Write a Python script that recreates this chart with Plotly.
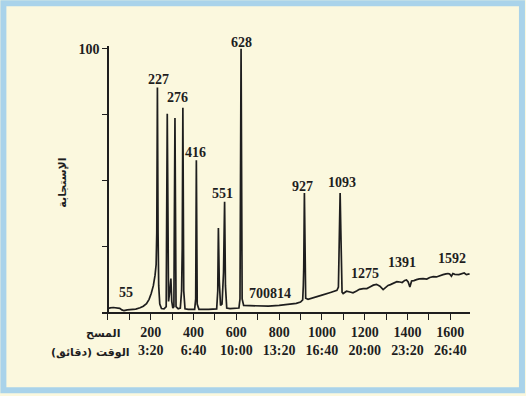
import plotly.graph_objects as go

# ---- data ----
scan = [0, 10, 25, 40, 55, 65, 75, 90, 110, 130, 150, 165, 180, 192, 202, 212, 220, 225, 228, 231, 234, 237, 242, 250,
        262, 272, 277, 283, 289, 294, 298, 303,
        308, 313, 318, 328,
        338, 344, 347, 350, 354, 360,
        375, 405, 410, 413, 417, 425,
        470, 508, 513, 516, 520, 526, 533, 540, 545, 549, 555,
        570, 612, 617, 622, 627, 634,
        660, 700, 750, 800, 850, 880, 900, 910, 913, 915, 918, 921, 924, 935, 960, 1000, 1040, 1070,
        1077, 1080, 1082, 1085, 1088, 1090, 1094, 1099,
        1115, 1131, 1145, 1162, 1175, 1193, 1210, 1224, 1240, 1255, 1271, 1286, 1309, 1320, 1330, 1341, 1350,
        1364, 1375, 1387, 1395, 1403, 1411, 1419, 1430, 1442, 1455, 1473, 1490, 1504, 1520, 1535, 1550, 1566,
        1580, 1589, 1597, 1605, 1612, 1621, 1640, 1652, 1665, 1675, 1690]
response = [1.2, 1.6, 1.7, 1.5, 1.4, 0.8, 0.5, 0.8, 0.9, 1.1, 1.6, 2.2, 3.2, 4.8, 7.0, 10.0, 14.0, 18.0, 30.0, 85.2, 30.0, 10.0, 3.0, 1.3,
            1.2, 2.0, 75.3, 4.0, 8.0, 12.7, 4.0, 1.5,
            2.0, 73.7, 2.0, 1.2,
            1.5, 8.0, 24.0, 77.6, 8.0, 1.2,
            1.0, 1.0, 5.0, 57.6, 3.0, 1.0,
            1.0, 1.2, 8.0, 31.9, 12.0, 2.5, 3.0, 15.0, 41.9, 10.0, 1.5,
            1.3, 1.5, 5.0, 100.0, 5.0, 2.5,
            2.4, 2.3, 2.2, 2.5, 2.9, 3.3, 3.8, 4.6, 10.0, 17.0, 45.2, 12.0, 5.2, 4.8, 5.5, 6.4, 7.4, 8.2,
            9.5, 20.0, 32.0, 45.2, 32.0, 15.0, 7.5, 7.0,
            7.9, 7.6, 7.3, 8.0, 8.6, 8.9, 8.9, 9.5, 10.2, 10.5, 9.8, 8.5, 10.1, 10.4, 10.8, 11.0, 11.5,
            11.4, 11.2, 12.0, 12.2, 11.4, 9.5, 11.8, 11.9, 12.3, 12.6, 12.7, 12.5, 13.1, 13.4, 13.3, 13.6, 14.2,
            14.5, 14.6, 14.4, 13.6, 14.6, 14.3, 14.2, 14.6, 14.8, 14.2, 14.5]

peak_labels = ["55", "227", "276", "416", "551", "628", "700814", "927", "1093", "1275", "1391", "1592"]
peak_label_scan = [85, 235, 323, 407, 533, 622, 758, 907, 1093, 1200, 1373, 1607]
peak_label_resp = [7.5, 88.3, 81.5, 60.6, 45.0, 102.4, 7.1, 47.7, 49.2, 14.7, 18.9, 20.4]

x_tick_vals = list(range(0, 1700, 100))
scan_labels = {200: "200", 400: "400", 600: "600", 800: "800", 1000: "1000", 1200: "1200", 1400: "1400", 1600: "1600"}
time_labels = {200: "3:20", 400: "6:40", 600: "10:00", 800: "13:20", 1000: "16:40", 1200: "20:00", 1400: "23:20", 1600: "26:40"}
y_tick_vals = [0, 25, 50, 75, 100]
y_tick_text = ["", "", "", "", "100"]

y_title = "الإستجابة"
scan_title = "المسح"
time_title = "الوقت (دقائق)"
RLM = "\u200f"

# ---- figure ----
W, H = 526, 396
ML, MR, MT, MB = 101.7, 56, 45.7, 84.3
XR = [-28, 1692]
YR = [0, 101]
pw, ph = W - ML - MR, H - MT - MB

def px2paper_x(px):
    return (px - ML) / pw

def py2paper_y(py):
    return (H - MB - py) / ph

def resp2paper(v):
    return (v - YR[0]) / (YR[1] - YR[0])

ink = "#1e1e1e"
serif = "Liberation Serif"
cream = "#fbf8de"

fig = go.Figure()
fig.add_trace(go.Scatter(x=scan, y=response, mode="lines",
                         line=dict(color=ink, width=1.7), hoverinfo="skip", showlegend=False))

tick_text = []
for v in x_tick_vals:
    if v in scan_labels:
        tick_text.append(scan_labels[v] + "<br>" + time_labels[v])
    else:
        tick_text.append("")

for t, xs, ys in zip(peak_labels, peak_label_scan, peak_label_resp):
    fig.add_annotation(x=xs, xref="x", y=resp2paper(ys), yref="paper", text=t, showarrow=False,
                       xanchor="center", yanchor="middle",
                       font=dict(family=serif, size=14, color=ink, weight="bold"))

arabic_font = dict(family="DejaVu Sans", size=11, color=ink, weight="bold")
fig.add_annotation(xref="paper", yref="paper", x=px2paper_x(122), y=py2paper_y(333),
                   text=RLM + scan_title + RLM, showarrow=False, xanchor="right", yanchor="middle",
                   font=arabic_font)
fig.add_annotation(xref="paper", yref="paper", x=px2paper_x(132), y=py2paper_y(352),
                   text=RLM + time_title + RLM, showarrow=False, xanchor="right", yanchor="middle",
                   font=arabic_font)
fig.add_annotation(xref="paper", yref="paper", x=px2paper_x(62), y=py2paper_y(182),
                   text=RLM + y_title + RLM, showarrow=False, textangle=-90, xanchor="center",
                   yanchor="middle", font=arabic_font)

# light blue frame around the page
fig.add_shape(type="rect", xref="paper", yref="paper",
              x0=px2paper_x(3), x1=px2paper_x(522), y0=py2paper_y(390), y1=py2paper_y(3),
              line=dict(color="#a9d3ea", width=6), fillcolor="rgba(0,0,0,0)", layer="below")

y_pos = (0 - XR[0]) / (XR[1] - XR[0])

fig.update_layout(
    width=W, height=H,
    margin=dict(l=ML, r=MR, t=MT, b=MB, pad=0),
    paper_bgcolor=cream, plot_bgcolor=cream,
    xaxis=dict(range=XR, tickvals=x_tick_vals, ticktext=tick_text, showgrid=False, zeroline=False,
               showline=True, linecolor=ink, linewidth=1.6, ticks="outside", ticklen=6, tickwidth=1.4,
               tickcolor=ink, tickfont=dict(family=serif, size=14, color=ink, weight="bold")),
    yaxis=dict(range=YR, tickvals=y_tick_vals, ticktext=y_tick_text, showgrid=False, zeroline=False,
               anchor="free", position=y_pos,
               showline=True, linecolor=ink, linewidth=1.6, ticks="outside", ticklen=5, tickwidth=1.4,
               tickcolor=ink, tickfont=dict(family=serif, size=14, color=ink, weight="bold")),
)

fig.write_html("out.html", config={"displayModeBar": False},
               post_script="document.body.style.margin='0';document.body.style.overflow='hidden';")
